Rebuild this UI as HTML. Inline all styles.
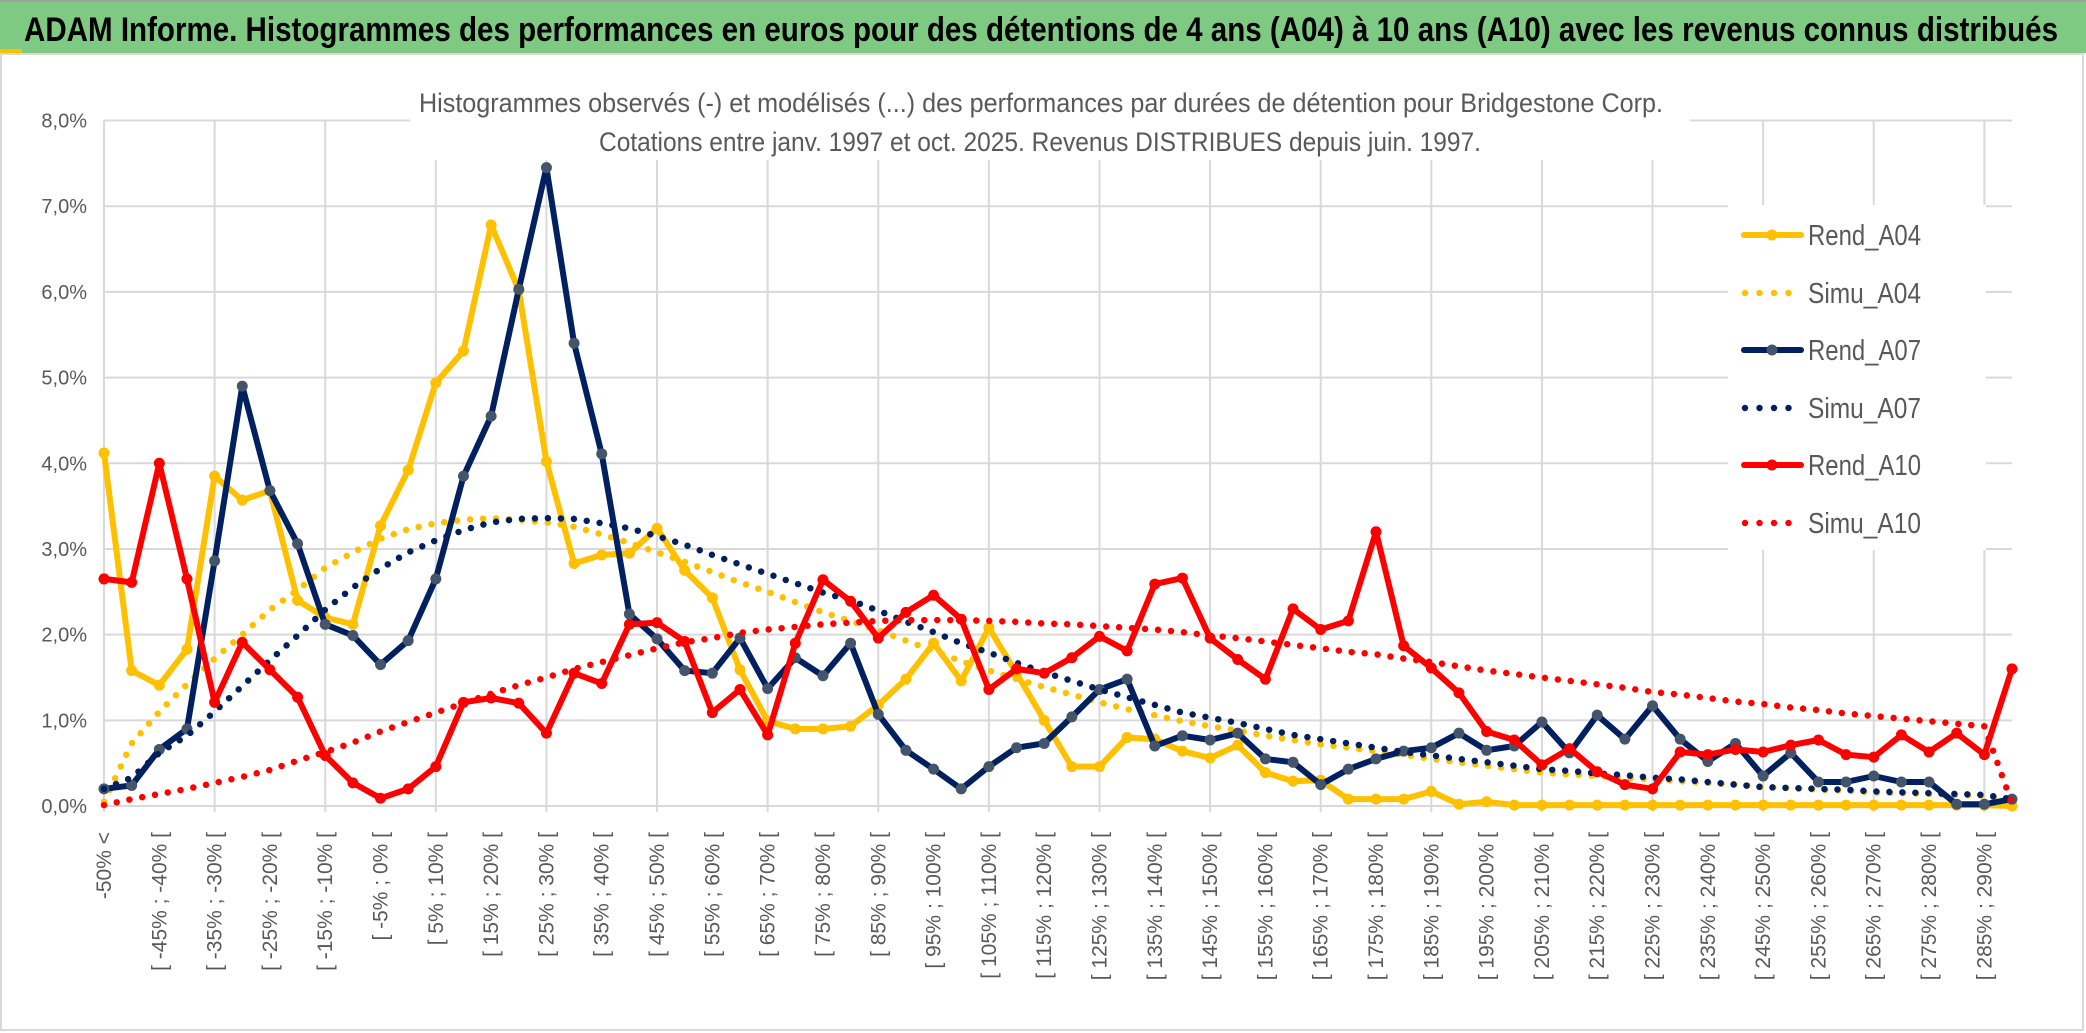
<!DOCTYPE html>
<html><head><meta charset="utf-8"><style>
html,body{margin:0;padding:0;background:#fff;}
svg{display:block;}
text{font-family:"Liberation Sans Narrow","Liberation Sans",sans-serif;}
</style></head><body>
<svg id="chart" width="2086" height="1033" viewBox="0 0 2086 1033" xmlns="http://www.w3.org/2000/svg">
<rect x="0" y="0" width="2086" height="1033" fill="#fff"/>
<rect x="1" y="54" width="2082" height="976" fill="none" stroke="#d9d9d9" stroke-width="2"/>
<rect x="0" y="2" width="2086" height="51" fill="#7fca83"/>
<rect x="0" y="0" width="2086" height="2" fill="#a0a0a0"/>
<rect x="0" y="49" width="22" height="4" fill="#ffc000"/>
<text x="24" y="41" font-size="34" font-weight="bold" fill="#000" textLength="2034" lengthAdjust="spacingAndGlyphs">ADAM Informe. Histogrammes des performances en euros pour des détentions de 4 ans (A04) à 10 ans (A10) avec les revenus connus distribués</text>
<g id="grid"></g>
<rect x="410" y="60" width="1280" height="100" fill="#fff"/>
<text x="419" y="112" font-size="27" fill="#595959" textLength="1244" lengthAdjust="spacingAndGlyphs">Histogrammes observés (-) et modélisés (...) des performances par durées de détention pour Bridgestone Corp.</text>
<text x="599" y="151" font-size="27" fill="#595959" textLength="882" lengthAdjust="spacingAndGlyphs">Cotations entre janv. 1997 et oct. 2025. Revenus DISTRIBUES depuis juin. 1997.</text>
<g id="yaxis"></g>
<g id="xaxis"></g>
<g id="series"></g>
<g id="legend"></g>
</svg>
<script>
const categories = (function(){const c=["-50% <"];for(let k=0;k<69;k++){const a=-50+5*k;c.push("[ "+a+"% ; "+(a+5)+"% [");}return c;})();
const yTicks = [0,1,2,3,4,5,6,7,8];
const yTickLabels = ["0,0%","1,0%","2,0%","3,0%","4,0%","5,0%","6,0%","7,0%","8,0%"];
const rendA04 = [4.12,1.58,1.41,1.83,3.85,3.57,3.68,2.4,2.2,2.12,3.27,3.92,4.94,5.31,6.78,6.02,4.02,2.83,2.93,2.95,3.24,2.75,2.43,1.59,0.99,0.9,0.9,0.93,1.18,1.48,1.9,1.46,2.08,1.55,1.0,0.46,0.46,0.8,0.78,0.64,0.56,0.71,0.39,0.29,0.3,0.08,0.08,0.08,0.17,0.02,0.05,0.01,0.01,0.01,0.01,0.01,0.01,0.01,0.01,0.01,0.01,0.01,0.01,0.01,0.01,0.01,0.01,0.01,0.01,0.0];
const simuA04 = [0.05,0.73,1.1,1.42,1.72,2.0,2.29,2.52,2.78,2.96,3.12,3.23,3.3,3.34,3.36,3.34,3.31,3.26,3.17,3.07,2.96,2.85,2.73,2.61,2.5,2.38,2.26,2.16,2.05,1.93,1.81,1.69,1.58,1.48,1.39,1.3,1.21,1.13,1.06,0.99,0.93,0.88,0.82,0.77,0.72,0.68,0.64,0.6,0.55,0.51,0.47,0.43,0.39,0.37,0.35,0.33,0.31,0.29,0.27,0.25,0.22,0.21,0.19,0.18,0.16,0.15,0.14,0.13,0.12,0.04];
const rendA07 = [0.2,0.24,0.66,0.9,2.86,4.9,3.68,3.06,2.12,1.99,1.65,1.93,2.65,3.85,4.55,6.03,7.45,5.4,4.11,2.24,1.95,1.58,1.55,1.96,1.37,1.73,1.52,1.9,1.07,0.65,0.43,0.2,0.46,0.68,0.73,1.04,1.36,1.48,0.7,0.82,0.77,0.85,0.55,0.51,0.25,0.43,0.55,0.64,0.68,0.85,0.65,0.7,0.98,0.62,1.06,0.78,1.17,0.78,0.52,0.73,0.35,0.62,0.28,0.28,0.35,0.28,0.28,0.02,0.02,0.08];
const simuA07 = [0.2,0.33,0.62,0.82,1.1,1.4,1.7,1.99,2.29,2.55,2.77,2.96,3.1,3.22,3.31,3.35,3.36,3.35,3.3,3.24,3.15,3.05,2.93,2.82,2.71,2.6,2.49,2.4,2.28,2.15,2.03,1.9,1.79,1.67,1.56,1.46,1.36,1.27,1.18,1.09,1.03,0.97,0.9,0.83,0.78,0.73,0.68,0.63,0.59,0.55,0.51,0.47,0.43,0.41,0.38,0.36,0.33,0.31,0.28,0.25,0.22,0.21,0.2,0.19,0.17,0.16,0.15,0.14,0.13,0.08];
const rendA10 = [2.65,2.61,4.0,2.65,1.21,1.91,1.59,1.27,0.59,0.27,0.09,0.2,0.46,1.21,1.26,1.2,0.85,1.55,1.43,2.12,2.14,1.92,1.09,1.36,0.83,1.9,2.64,2.39,1.96,2.26,2.46,2.18,1.36,1.6,1.55,1.73,1.98,1.81,2.59,2.66,1.96,1.71,1.48,2.3,2.06,2.16,3.2,1.87,1.61,1.32,0.87,0.77,0.48,0.67,0.4,0.25,0.2,0.63,0.6,0.66,0.63,0.71,0.77,0.6,0.57,0.83,0.63,0.85,0.6,1.6];
const simuA10 = [0.01,0.08,0.14,0.2,0.27,0.34,0.42,0.53,0.63,0.74,0.87,0.98,1.09,1.2,1.31,1.41,1.5,1.6,1.68,1.76,1.84,1.91,1.96,2.02,2.06,2.09,2.12,2.14,2.16,2.17,2.17,2.17,2.16,2.15,2.13,2.12,2.1,2.08,2.06,2.03,1.99,1.96,1.92,1.88,1.84,1.8,1.77,1.72,1.68,1.63,1.58,1.54,1.5,1.46,1.42,1.38,1.33,1.3,1.26,1.22,1.19,1.15,1.12,1.08,1.05,1.02,0.99,0.96,0.93,0.03];

const NS="http://www.w3.org/2000/svg";
const X0=104, X1=2012, Y0=806, Y8=120.5;
function xs(i){return X0+(X1-X0)*i/(categories.length-1);}
function ys(v){return Y0-(Y0-Y8)*v/8;}
function mk(tag,attrs,parent){const e=document.createElementNS(NS,tag);for(const k in attrs)e.setAttribute(k,attrs[k]);parent.appendChild(e);return e;}

const grid=document.getElementById('grid');
yTicks.forEach(function(t){
  const l=mk('line',{x1:X0,x2:X1,y1:ys(t),y2:ys(t),stroke:'#d9d9d9','stroke-width':2},grid);
  
  
});
for(let i=0;i<categories.length;i+=4){
  const l=mk('line',{x1:xs(i),x2:xs(i),y1:Y8,y2:Y0+6,stroke:'#d9d9d9','stroke-width':2},grid);
  
  
}
const ya=document.getElementById('yaxis');
yTicks.forEach(function(t,k){
  const tx=mk('text',{x:87,y:ys(t)+7,'text-anchor':'end','font-size':20,fill:'#595959'},ya);
  tx.textContent=yTickLabels[k];
  
  
});
const xa=document.getElementById('xaxis');
for(let i=0;i<categories.length;i+=2){
  const x=xs(i)+7, y=832;
  const tx=mk('text',{x:x,y:y,'text-anchor':'end','font-size':21,fill:'#595959',transform:'rotate(-90 '+x+' '+y+')',style:'font-family:"Liberation Sans",sans-serif'},xa);
  tx.textContent=categories[i];
  
  
}
const sg=document.getElementById('series');
function pts(arr){return arr.map(function(v,i){return xs(i).toFixed(1)+','+ys(v).toFixed(1);}).join(' ');}
function solid(arr,color,mcolor,name){
  const g=mk('g',{},sg);
  
  
  const p=mk('polyline',{points:pts(arr),fill:'none',stroke:color,'stroke-width':6,'stroke-linejoin':'round','stroke-linecap':'round'},g);
  
  
  arr.forEach(function(v,i){
    const c=mk('circle',{cx:xs(i),cy:ys(v),r:5.5,fill:mcolor},g);
    
    
  });
}
function dotted(arr,color,name){
  const p=mk('polyline',{points:pts(arr),fill:'none',stroke:color,'stroke-width':6.5,'stroke-linecap':'round','stroke-dasharray':'0 13'},sg);
  
  
}
solid(rendA04,'#ffc000','#ffc000','rend-a04');
dotted(simuA04,'#ffc000','simu-a04');
solid(rendA07,'#002060','#44546a','rend-a07');
dotted(simuA07,'#002060','simu-a07');
solid(rendA10,'#ff0000','#ff0000','rend-a10');
dotted(simuA10,'#ff0000','simu-a10');

const lg=document.getElementById('legend');
const bg=mk('rect',{x:1728,y:205,width:258,height:345,fill:'#fff'},lg);


const legendNames=['Rend_A04','Simu_A04','Rend_A07','Simu_A07','Rend_A10','Simu_A10'];
const legendColors=['#ffc000','#ffc000','#002060','#002060','#ff0000','#ff0000'];
const legendMarker=['#ffc000',null,'#44546a',null,'#ff0000',null];
const legendY=[235,293,350,408,465,523];
legendNames.forEach(function(n,k){
  const g=mk('g',{},lg);
  
  
  const y=legendY[k];
  if(legendMarker[k]){
    mk('line',{x1:1744,x2:1801,y1:y,y2:y,stroke:legendColors[k],'stroke-width':6,'stroke-linecap':'round'},g);
    mk('circle',{cx:1772,cy:y,r:5.5,fill:legendMarker[k]},g);
  } else {
    mk('line',{x1:1745,x2:1802,y1:y,y2:y,stroke:legendColors[k],'stroke-width':6.5,'stroke-linecap':'round','stroke-dasharray':'0 14.5'},g);
  }
  const t=mk('text',{x:1808,y:y+10,'font-size':29,fill:'#595959',textLength:113,lengthAdjust:'spacingAndGlyphs'},g);
  t.textContent=n;
});
</script>
</body></html>
